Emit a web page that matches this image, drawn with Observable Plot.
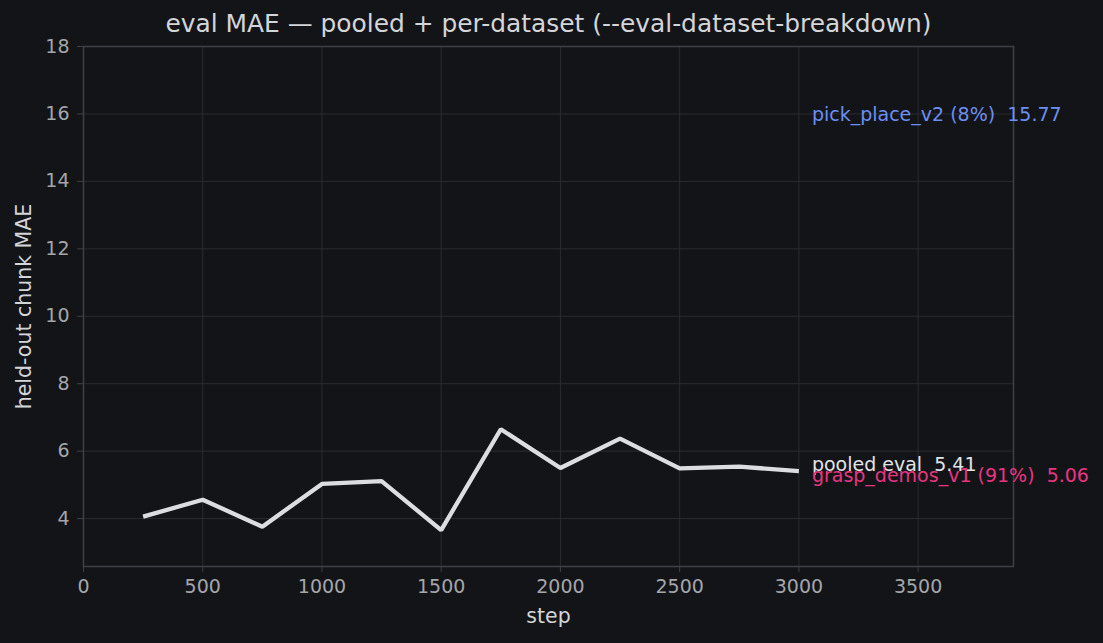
<!DOCTYPE html>
<html>
<head>
<meta charset="utf-8">
<script src="https://cdn.jsdelivr.net/npm/d3@7"></script>
<script src="https://cdn.jsdelivr.net/npm/@observablehq/plot@0.6"></script>
<style>
  html, body { margin: 0; padding: 0; background: #131418; }
  #chart svg text { white-space: pre; }
</style>
</head>
<body>
<div id="chart"></div>
<script>
// ---- data ----
const steps = [250, 500, 750, 1000, 1250, 1500, 1750, 2000, 2250, 2500, 2750, 3000];
const pooledMAE = [4.06, 4.56, 3.76, 5.03, 5.11, 3.66, 6.65, 5.50, 6.37, 5.49, 5.54, 5.41];

const seriesNames = ["pick_place_v2", "pooled eval", "grasp_demos_v1"];
const seriesShares = ["8%", null, "91%"];
const seriesFinal = [15.77, 5.41, 5.06];

const xTicks = [0, 500, 1000, 1500, 2000, 2500, 3000, 3500];
const yTicks = [4, 6, 8, 10, 12, 14, 16, 18];

const titleText = "eval MAE \u2014 pooled + per-dataset (--eval-dataset-breakdown)";
const xLabel = "step";
const yLabel = "held-out chunk MAE";

// ---- derived tables ----
const pooled = steps.map((s, i) => ({step: s, mae: pooledMAE[i]}));
const lastStep = steps[steps.length - 1];
const endLabels = seriesNames.map((n, i) => ({
  name: n,
  step: lastStep,
  mae: seriesFinal[i],
  text: (seriesShares[i] ? `${n} (${seriesShares[i]})` : n) + "  " + seriesFinal[i].toFixed(2)
}));

const FONT = "'DejaVu Sans', sans-serif";
const gridColor = "#2a2c31";
const frameColor = "#3d4046";
const tickText = "#a4a6aa";
const labelText = "#d4d5d8";

const chart = Plot.plot({
  width: 1103,
  height: 643,
  marginLeft: 83,
  marginRight: 90,
  marginTop: 46,
  marginBottom: 77,
  style: {background: "#131418", fontFamily: FONT, fontSize: "19px", color: tickText},
  x: {domain: [0, 3900], ticks: xTicks},
  y: {domain: [2.58, 18], ticks: yTicks},
  color: {type: "ordinal", domain: seriesNames, range: ["#6b8ff2", "#e2e3e6", "#e83580"]},
  marks: [
    Plot.gridX(xTicks, {stroke: gridColor, strokeOpacity: 1, strokeWidth: 1}),
    Plot.gridY(yTicks, {stroke: gridColor, strokeOpacity: 1, strokeWidth: 1}),
    Plot.frame({stroke: frameColor, strokeWidth: 1.5}),
    Plot.axisX(xTicks, {label: null, tickSize: 6, stroke: frameColor, fill: tickText, fontSize: 19, tickPadding: 7, tickFormat: d => String(d)}),
    Plot.axisY(yTicks, {label: null, tickSize: 6, stroke: frameColor, fill: tickText, fontSize: 19, tickPadding: 8}),
    Plot.line(pooled, {x: "step", y: "mae", stroke: "#dcdde0", strokeWidth: 4.3, strokeLinejoin: "miter", strokeLinecap: "butt"}),
    Plot.text(endLabels, {x: "step", y: "mae", text: "text", fill: "name", textAnchor: "start", lineAnchor: "middle", dx: 13, dy: -6.5, fontSize: 19}),
    Plot.text([titleText], {frameAnchor: "top", text: d => d, lineAnchor: "middle", textAnchor: "middle", dy: -22, fontSize: 24.9, fill: labelText}),
    Plot.text([xLabel], {frameAnchor: "bottom", text: d => d, lineAnchor: "middle", textAnchor: "middle", dy: 50, fontSize: 20.5, fill: labelText}),
    Plot.text([yLabel], {frameAnchor: "left", text: d => d, lineAnchor: "middle", textAnchor: "middle", dx: -59, rotate: -90, fontSize: 20.5, fill: labelText})
  ]
});
document.getElementById("chart").appendChild(chart);
</script>
</body>
</html>
